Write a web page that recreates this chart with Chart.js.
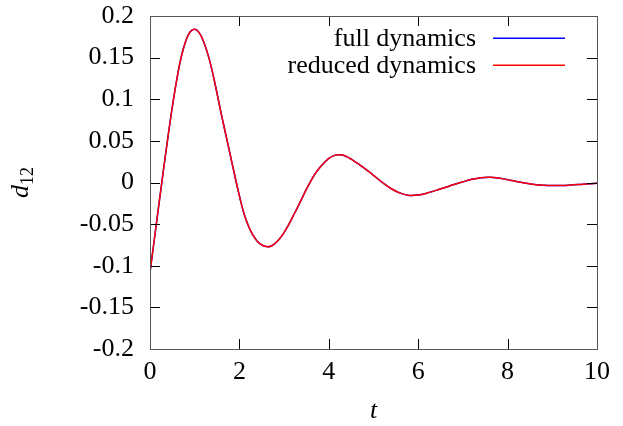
<!DOCTYPE html>
<html>
<head>
<meta charset="utf-8">
<script src="https://cdn.jsdelivr.net/npm/chart.js@4.4.1/dist/chart.umd.min.js"></script>
<style>
  html, body { margin: 0; padding: 0; background: #fff; }
  #wrap { width: 623px; height: 426px; }
</style>
</head>
<body>
<div id="wrap"><canvas id="c" width="623" height="426"></canvas></div>
<script>
// time samples and the two series
const tVals = [0, 0.1, 0.2, 0.3, 0.4, 0.5, 0.6, 0.7, 0.8, 0.9, 1.0, 1.1, 1.2, 1.3, 1.4, 1.5, 1.6, 1.7, 1.8, 1.9,
  2.0, 2.1, 2.2, 2.3, 2.4, 2.5, 2.6, 2.7, 2.8, 2.9, 3.0, 3.1, 3.2, 3.3, 3.4, 3.5, 3.6, 3.7, 3.8, 3.9,
  4.0, 4.1, 4.2, 4.3, 4.4, 4.5, 4.6, 4.7, 4.8, 4.9, 5.0, 5.2, 5.4, 5.6, 5.8, 6.0, 6.2, 6.4, 6.6, 6.8,
  7.0, 7.2, 7.4, 7.6, 7.8, 8.0, 8.2, 8.4, 8.6, 8.8, 9.0, 9.2, 9.4, 9.6, 9.8, 10.0];
const fullVals = [-0.108, -0.067, -0.026, 0.0145, 0.054, 0.091, 0.124, 0.151, 0.170, 0.181, 0.184, 0.180, 0.169, 0.153, 0.132, 0.107, 0.081, 0.0565, 0.032, 0.0075,
  -0.016, -0.037, -0.052, -0.063, -0.0705, -0.075, -0.077, -0.0765, -0.073, -0.0675, -0.060, -0.051, -0.0405, -0.030, -0.019, -0.008, 0.002, 0.011, 0.018, 0.024,
  0.029, 0.032, 0.0333, 0.033, 0.031, 0.028, 0.0245, 0.021, 0.017, 0.013, 0.0086, 0.0, -0.0075, -0.0128, -0.0155, -0.015, -0.0127, -0.0095, -0.006, -0.0025,
  0.0008, 0.0038, 0.0058, 0.0064, 0.0054, 0.0034, 0.0012, -0.0008, -0.0024, -0.0033, -0.0037, -0.0036, -0.0031, -0.0024, -0.0016, -0.001];
const reducedVals = [-0.108, -0.067, -0.026, 0.0145, 0.054, 0.091, 0.124, 0.151, 0.170, 0.181, 0.184, 0.180, 0.169, 0.153, 0.132, 0.107, 0.081, 0.0565, 0.032, 0.0075,
  -0.016, -0.037, -0.052, -0.063, -0.0705, -0.075, -0.077, -0.0765, -0.073, -0.0675, -0.060, -0.051, -0.0405, -0.030, -0.019, -0.008, 0.002, 0.011, 0.018, 0.024,
  0.029, 0.032, 0.0333, 0.033, 0.031, 0.028, 0.0245, 0.021, 0.017, 0.013, 0.0086, 0.0, -0.0075, -0.0128, -0.0155, -0.015, -0.0127, -0.0095, -0.006, -0.0025,
  0.0008, 0.0038, 0.0058, 0.0064, 0.0054, 0.0034, 0.0012, -0.0008, -0.0024, -0.0033, -0.0037, -0.0036, -0.0031, -0.0024, -0.0016, -0.001];
const seriesNames = ['full dynamics', 'reduced dynamics'];
const seriesColors = ['#0000ff', '#ff0000'];
const xTicks = [0, 2, 4, 6, 8, 10];
const yTicks = [-0.2, -0.15, -0.1, -0.05, 0, 0.05, 0.1, 0.15, 0.2];

const FONT = '"Liberation Serif", "Times New Roman", serif';
const FSIZE = 26;

function pts(vals) {
  return tVals.map((t, i) => ({x: t, y: vals[i]}));
}

// gnuplot look: frame, inward ticks on all sides, legend, axis titles
const gnuplotLook = {
  id: 'gnuplotLook',
  afterDraw(chart) {
    const ctx = chart.ctx;
    const a = chart.chartArea;
    const xs = chart.scales.x, ys = chart.scales.y;
    const tl = 10;
    ctx.save();
    ctx.strokeStyle = '#000';
    ctx.lineWidth = 1;
    ctx.beginPath();
    xTicks.forEach(v => {
      const px = Math.round(xs.getPixelForValue(v)) + 0.5;
      ctx.moveTo(px, a.bottom); ctx.lineTo(px, a.bottom - tl);
      ctx.moveTo(px, a.top); ctx.lineTo(px, a.top + tl);
    });
    yTicks.forEach(v => {
      const py = Math.round(ys.getPixelForValue(v)) + 0.5;
      ctx.moveTo(a.left, py); ctx.lineTo(a.left + tl, py);
      ctx.moveTo(a.right, py); ctx.lineTo(a.right - tl, py);
    });
    ctx.stroke();
    ctx.strokeStyle = '#555';
    ctx.strokeRect(Math.round(a.left) + 0.5, Math.round(a.top) + 0.5,
      Math.round(a.right - a.left), Math.round(a.bottom - a.top));

    // legend
    ctx.font = FSIZE + 'px ' + FONT;
    ctx.textAlign = 'right';
    ctx.textBaseline = 'middle';
    seriesNames.forEach((name, i) => {
      const y = Math.round(a.top + 22 + i * 27);
      ctx.fillStyle = '#000';
      ctx.fillText(name, 476, y + 1);
      ctx.fillStyle = seriesColors[i];
      ctx.fillRect(493, y - 0.5, 72, 1.5);
    });

    // x title
    ctx.fillStyle = '#000';
    ctx.font = 'italic ' + FSIZE + 'px ' + FONT;
    ctx.textAlign = 'center';
    ctx.textBaseline = 'alphabetic';
    ctx.fillText('t', (a.left + a.right) / 2, 418);

    // y title d_12, rotated
    ctx.translate(28, (a.top + a.bottom) / 2);
    ctx.rotate(-Math.PI / 2);
    ctx.textAlign = 'left';
    ctx.font = 'italic ' + FSIZE + 'px ' + FONT;
    const w1 = ctx.measureText('d').width;
    ctx.font = '18px ' + FONT;
    const w2 = ctx.measureText('12').width;
    const x0 = -(w1 + w2) / 2;
    ctx.font = 'italic ' + FSIZE + 'px ' + FONT;
    ctx.fillText('d', x0, 0);
    ctx.font = '18px ' + FONT;
    ctx.fillText('12', x0 + w1, 5);
    ctx.restore();
  }
};

new Chart(document.getElementById('c'), {
  type: 'line',
  data: {
    datasets: [{
      label: seriesNames[0],
      data: pts(fullVals),
      borderColor: seriesColors[0],
      borderWidth: 1.5,
      pointRadius: 0,
      order: 1,
      tension: 0.4
    }, {
      label: seriesNames[1],
      data: pts(reducedVals),
      borderColor: seriesColors[1],
      borderWidth: 1.5,
      pointRadius: 0,
      order: 0,
      tension: 0.4
    }]
  },
  options: {
    responsive: false,
    animation: false,
    layout: { padding: { top: 16, right: 26, left: 0, bottom: 0 } },
    plugins: { legend: { display: false }, tooltip: { enabled: false } },
    scales: {
      x: {
        type: 'linear', min: 0, max: 10,
        afterBuildTicks: s => { s.ticks = xTicks.map(v => ({value: v})); },
        afterFit: s => { s.height = 77; s.paddingLeft = 0; s.paddingRight = 0; },
        grid: { drawOnChartArea: false, drawTicks: false },
        border: { display: false },
        ticks: { color: '#000', padding: 8, font: { family: FONT, size: FSIZE },
          maxRotation: 0, callback: v => String(v) }
      },
      y: {
        min: -0.2, max: 0.2,
        afterBuildTicks: s => { s.ticks = yTicks.map(v => ({value: v})); },
        afterFit: s => { s.width = 150; s.paddingTop = 0; s.paddingBottom = 0; },
        grid: { drawOnChartArea: false, drawTicks: false },
        border: { display: false },
        ticks: { color: '#000', padding: 16, font: { family: FONT, size: FSIZE },
          callback: v => String(Number(v.toFixed(2))) }
      }
    }
  },
  plugins: [gnuplotLook]
});
</script>
</body>
</html>
